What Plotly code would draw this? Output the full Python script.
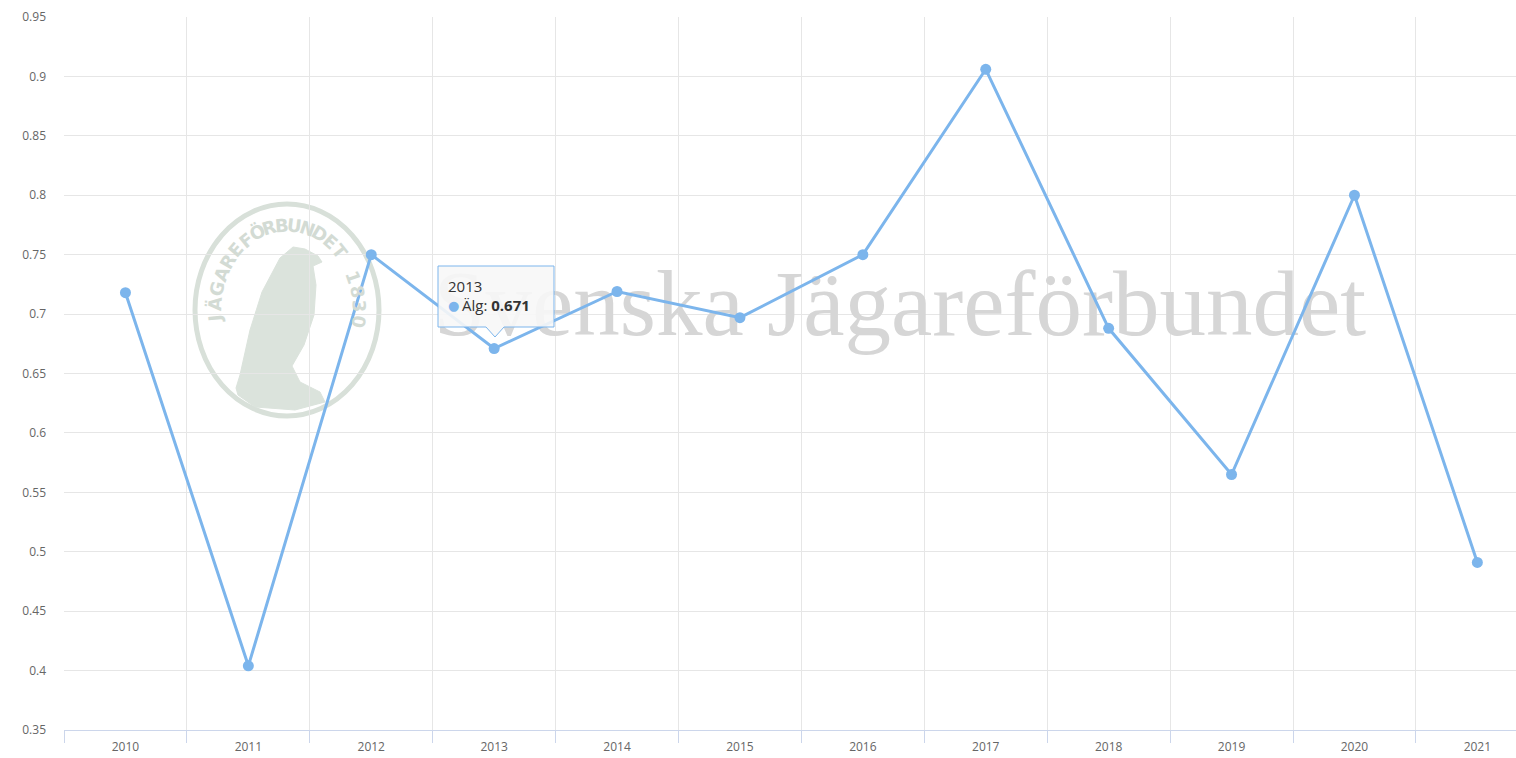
import math
import plotly.graph_objects as go

years = ["2010", "2011", "2012", "2013", "2014", "2015", "2016", "2017", "2018", "2019", "2020", "2021"]
alg = [0.718, 0.404, 0.750, 0.671, 0.719, 0.697, 0.750, 0.906, 0.688, 0.565, 0.800, 0.491]
series_name = "Älg"
y_ticks = [0.35, 0.40, 0.45, 0.50, 0.55, 0.60, 0.65, 0.70, 0.75, 0.80, 0.85, 0.90, 0.95]
y_labels = ["0.35", "0.4", "0.45", "0.5", "0.55", "0.6", "0.65", "0.7", "0.75", "0.8", "0.85", "0.9", "0.95"]
tooltip_index = 3

W, H = 1516, 758
ML, MR, MT, MB = 64, 0, 17, 28
PW, PH = W - ML - MR, H - MT - MB
CAT_W = 122.9

def px(x):
    return (x - ML) / PW

def py(y):
    return (H - MB - y) / PH

FONT = "Open Sans, Verdana, sans-serif"
LINE_COLOR = "#7cb5ec"

xs = list(range(len(years)))

fig = go.Figure()

# watermark text (drawn beneath the series)
fig.add_trace(go.Scatter(
    x=[(900 - ML) / CAT_W - 0.5], y=[0.95 - (312 - MT) / PH * 0.6],
    mode="text", text=["Svenska Jägareförbundet"],
    textfont=dict(family="Liberation Serif, Times New Roman, serif", size=93, color="#d6d6d6"),
    hoverinfo="skip", showlegend=False, cliponaxis=False,
))

fig.add_trace(go.Scatter(
    x=xs, y=alg, name=series_name, mode="lines+markers",
    line=dict(color=LINE_COLOR, width=3),
    marker=dict(color=LINE_COLOR, size=11),
    hoverinfo="skip", showlegend=False,
))

shapes = []
annotations = []

# logo ellipse
cx, cy, rx, ry = 287, 310, 92, 106
shapes.append(dict(type="circle", xref="paper", yref="paper", layer="below",
                   x0=px(cx - rx), x1=px(cx + rx), y0=py(cy + ry), y1=py(cy - ry),
                   line=dict(color="#d8e0d9", width=5)))
# eagle silhouette
eagle = [(293, 247), (305, 249), (318, 256), (322, 262), (313, 266), (316, 285), (314, 315),
         (304, 345), (292, 366), (300, 382), (320, 392), (325, 402), (295, 410), (255, 407),
         (238, 395), (236, 388), (240, 375), (250, 330), (262, 292), (280, 258)]
path = "M " + " L ".join(f"{px(a):.5f},{py(b):.5f}" for a, b in eagle) + " Z"
shapes.append(dict(type="path", xref="paper", yref="paper", layer="below", path=path,
                   fillcolor="#dbe3dc", line=dict(color="#dbe3dc", width=1)))

# ring text
ring = "JÄGAREFÖRBUNDET 1830"
trx, try_ = 72, 85
t0, t1 = 186.0, -8.0
n = len(ring)
for i, ch in enumerate(ring):
    if ch == " ":
        continue
    t = math.radians(t0 + (t1 - t0) * i / (n - 1))
    x = cx + trx * math.cos(t)
    y = cy - try_ * math.sin(t)
    na = math.degrees(math.atan2(math.sin(t) / try_, math.cos(t) / trx))
    annotations.append(dict(xref="paper", yref="paper", x=px(x), y=py(y), text=f"<b>{ch}</b>",
                            showarrow=False, textangle=90 - na,
                            font=dict(family="DejaVu Sans, sans-serif", size=18, color="#d3dbd4"),
                            xanchor="center", yanchor="middle"))

# tooltip box with pointer
bx0, bx1, by0, by1 = 438, 554, 266, 327
tipx = 495
tip_path = (f"M {px(bx0)},{py(by0)} L {px(bx1)},{py(by0)} L {px(bx1)},{py(by1)} "
            f"L {px(tipx + 9)},{py(by1)} L {px(tipx)},{py(by1 + 10)} L {px(tipx - 9)},{py(by1)} "
            f"L {px(bx0)},{py(by1)} Z")
shapes.append(dict(type="path", xref="paper", yref="paper", layer="above", path=tip_path,
                   fillcolor="rgba(247,247,247,0.9)", line=dict(color=LINE_COLOR, width=1)))
annotations.append(dict(xref="paper", yref="paper", x=px(446), y=py(286), xanchor="left", yanchor="middle",
                        text=years[tooltip_index], showarrow=False,
                        font=dict(family=FONT, size=15, color="#333333")))
annotations.append(dict(xref="paper", yref="paper", x=px(453), y=py(305), xanchor="center", yanchor="middle",
                        text="●", showarrow=False,
                        font=dict(family="DejaVu Sans, sans-serif", size=13, color=LINE_COLOR)))
annotations.append(dict(xref="paper", yref="paper", x=px(460), y=py(305), xanchor="left", yanchor="middle",
                        text=f"{series_name}: <b>{alg[tooltip_index]:.3f}</b>",
                        showarrow=False, font=dict(family=FONT, size=15, color="#333333")))

fig.update_layout(
    width=W, height=H,
    margin=dict(l=ML, r=MR, t=MT, b=MB),
    paper_bgcolor="white", plot_bgcolor="white",
    hovermode=False,
    shapes=shapes, annotations=annotations,
    xaxis=dict(
        range=[-0.5, -0.5 + PW / CAT_W],
        tickvals=xs, ticktext=years, ticks="", showgrid=False, zeroline=False,
        showline=True, linecolor="#ccd6eb", linewidth=1,
        tickfont=dict(family=FONT, size=12, color="#666666"),
        ticklabelstandoff=6,
        minor=dict(tickvals=[i - 0.5 for i in range(len(years) + 1)], showgrid=True,
                   gridcolor="#e6e6e6", gridwidth=1, ticks="outside", ticklen=12,
                   tickcolor="#ccd6eb", tickwidth=1),
    ),
    yaxis=dict(
        range=[0.35, 0.95], tickvals=y_ticks, ticktext=y_labels,
        showgrid=True, gridcolor="#e6e6e6", gridwidth=1, zeroline=False,
        ticks="", showline=False,
        tickfont=dict(family=FONT, size=12, color="#666666"),
        ticklabelstandoff=17,
    ),
)

fig.write_html("out.html", config={"displayModeBar": False},
               post_script="document.body.style.margin='0';")
